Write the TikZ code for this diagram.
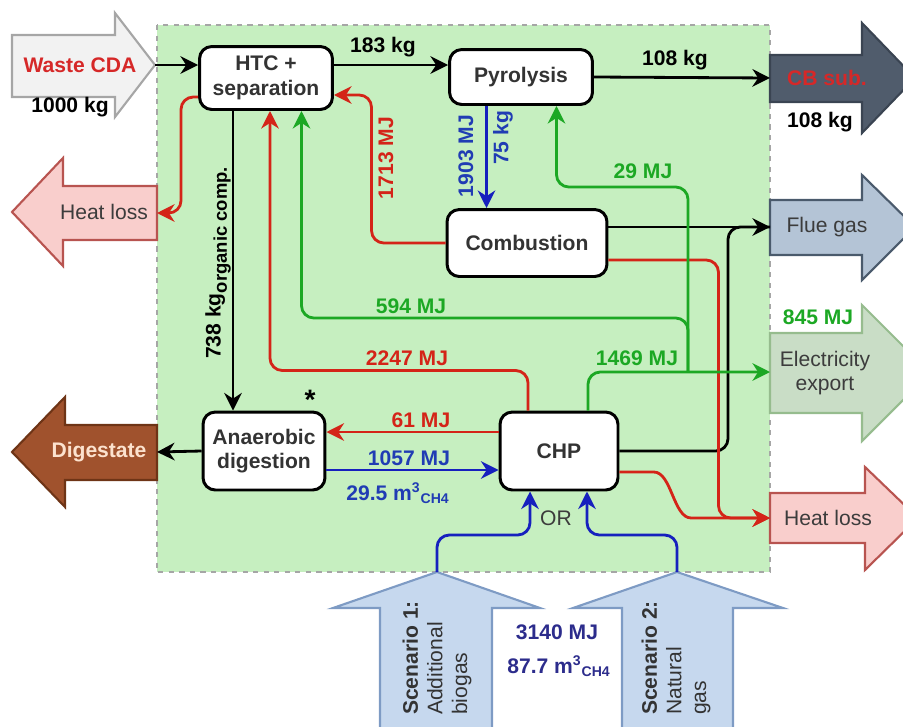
\documentclass[tikz,border=0pt]{standalone}
\usepackage{fontspec}
\setmainfont{Liberation Sans}
\usetikzlibrary{arrows.meta}

\definecolor{areagreen}{RGB}{198,239,192}
\definecolor{hotred}{RGB}{212,36,24}
\definecolor{elgreen}{RGB}{28,168,36}
\definecolor{gasblue}{RGB}{22,32,190}
\definecolor{labelblue}{RGB}{32,60,180}
\definecolor{navyblue}{RGB}{44,44,140}
\definecolor{wastered}{RGB}{214,40,40}
\definecolor{darktxt}{RGB}{60,60,60}
\definecolor{scenfill}{RGB}{198,216,238}
\definecolor{scendraw}{RGB}{126,155,196}
\definecolor{cbfill}{RGB}{80,92,108}
\definecolor{cbdraw}{RGB}{58,68,82}
\definecolor{fluefill}{RGB}{180,196,214}
\definecolor{fluedraw}{RGB}{74,90,108}
\definecolor{elfill}{RGB}{201,221,198}
\definecolor{eldraw}{RGB}{150,188,142}
\definecolor{lossfill}{RGB}{249,206,204}
\definecolor{lossdraw}{RGB}{184,84,80}
\definecolor{digfill}{RGB}{160,82,45}
\definecolor{digdraw}{RGB}{110,52,22}
\definecolor{digtxt}{RGB}{252,226,206}
\newcommand{\normtxt}{\fontsize{12}{14}\selectfont}
\newcommand{\boldtxt}{\fontsize{12}{14}\selectfont\bfseries}

\begin{document}
\begin{tikzpicture}[x=0.02cm, y=-0.02cm,
        unit/.style={draw=black, line width=1.7pt, rounded corners=7pt, fill=white,
            text=black!80, font=\boldtxt, align=center, inner sep=2pt},
        pipe/.style={line width=1.6pt, rounded corners=7pt},
        tip/.style={-{Stealth[length=10pt,width=10pt]}},
        heat/.style={pipe, draw=hotred},
        power/.style={pipe, draw=elgreen},
        gas/.style={pipe, draw=gasblue},
        lbl/.style={font=\boldtxt, inner sep=1pt},
        bigtxt/.style={font=\normtxt, text=darktxt, align=center}]
    \useasboundingbox (0,0) rectangle (903,727);
    % plant area
        \filldraw[draw=gray!70, fill=areagreen, dashed, line width=0.8pt] (157,25) rectangle (770,572);
    % block arrows in
        \filldraw[draw=gray!70, fill=gray!10, line width=1.2pt] (12,35) -- (115,35) -- (115,13) -- (155,65) -- (115,117) -- (115,97) -- (12,97) -- cycle;
        \filldraw[draw=scendraw, fill=scenfill, line width=1.2pt] (380,740) -- (380,608) -- (333,608) -- (437,572) -- (540,608) -- (492,608) -- (492,740) -- cycle;
        \filldraw[draw=scendraw, fill=scenfill, line width=1.2pt] (622,740) -- (622,608) -- (573,608) -- (677,572) -- (783,608) -- (733,608) -- (733,740) -- cycle;
    % block arrows out
        \filldraw[draw=cbdraw, fill=cbfill, line width=1.2pt] (770,55) -- (862,55) -- (862,23) -- (915,78) -- (862,133) -- (862,102) -- (770,102) -- cycle;
        \filldraw[draw=fluedraw, fill=fluefill, line width=1.2pt] (770,200) -- (862,200) -- (862,175) -- (915,227) -- (862,280) -- (862,255) -- (770,255) -- cycle;
        \filldraw[draw=eldraw, fill=elfill, line width=1.2pt] (770,333) -- (862,333) -- (862,305) -- (930,373) -- (862,441) -- (862,413) -- (770,413) -- cycle;
        \filldraw[draw=lossdraw, fill=lossfill, line width=1.2pt] (770,493) -- (865,493) -- (865,467) -- (918,518) -- (865,570) -- (865,543) -- (770,543) -- cycle;
        \filldraw[draw=lossdraw, fill=lossfill, line width=1.2pt] (157,186) -- (63,186) -- (63,158) -- (12,212) -- (63,266) -- (63,240) -- (157,240) -- cycle;
        \filldraw[draw=digdraw, fill=digfill, line width=1.2pt] (157,425) -- (65,425) -- (65,397) -- (12,452) -- (65,507) -- (65,480) -- (157,480) -- cycle;
    % arrow ends
        \coordinate (wastetip) at (155,65);
        \coordinate (cbtip) at (770,78);
        \coordinate (fluetip) at (770,227);
        \coordinate (eltip) at (770,372);
        \coordinate (hlrtip) at (770,518);
        \coordinate (hlltip) at (157,213);
        \coordinate (digtip) at (157,452);
        \coordinate (s1tip) at (437,572);
        \coordinate (s2tip) at (677,572);
        \coordinate (orgx) at (233,0);
        \coordinate (jn) at (688,372);
    % arrow texts
        \node[lbl, text=wastered] (waste) at (80,65) {Waste CDA};
        \node[lbl] (wastekg) at (70,107) {1000 kg};
        \node[lbl, text=wastered] (cbsub) at (827,78) {CB sub.};
        \node[lbl] (cbkg) at (820,122) {108 kg};
        \node[bigtxt] (flue) at (827,227) {Flue gas};
        \node[bigtxt] (elec) at (825,373) {Electricity\\export};
        \node[bigtxt] (hlr) at (828,518) {Heat loss};
        \node[bigtxt] (hll) at (104,212) {Heat loss};
        \node[lbl, text=digtxt] (dig) at (99,452) {Digestate};
        \node[font=\normtxt, text=black!80, align=left, rotate=90] (sc1) at (437,658) {\textbf{Scenario 1:}\\Additional\\biogas};
        \node[font=\normtxt, text=black!80, align=left, rotate=90] (sc2) at (676,658) {\textbf{Scenario 2:}\\Natural\\gas};
    % units
        \node[unit, minimum width=2.66cm, minimum height=1.26cm] (htc) at (266,78) {HTC +\\separation};
        \node[unit, minimum width=2.86cm, minimum height=1.1cm] (pyro) at (521,77) {Pyrolysis};
        \node[unit, minimum width=3.2cm, minimum height=1.34cm] (comb) at (527,243) {Combustion};
        \node[unit, minimum width=2.44cm, minimum height=1.56cm] (ad) at (264,451) {Anaerobic\\digestion};
        \node[unit, minimum width=2.36cm, minimum height=1.56cm] (chp) at (559,451) {CHP};
    % mass flows
        \draw[pipe, tip] (wastetip) -- (wastetip -| htc.west);
        \draw[pipe, tip] (htc.east |- wastetip) -- (pyro.west |- wastetip);
        \draw[pipe, tip] (pyro.east) -- (cbtip);
        \draw[pipe, tip] (htc.south -| orgx) -- (ad.north -| orgx);
        \draw[pipe, tip] (ad.west) -- (digtip);
        \draw[pipe, tip] (comb.east |- fluetip) -- (fluetip);
        \draw[pipe] (chp.east) -| ([xshift=-0.84cm]fluetip) -- (fluetip);
    % heat flows
        \draw[heat, tip] ([yshift=-0.38cm]htc.west) -- ++(-17,0) |- (hlltip);
        \draw[heat, tip] (comb.west) -- ++(-74,0) |- ([yshift=-0.34cm]htc.east);
        \draw[heat, tip] ([xshift=-0.62cm]chp.north) -- ++(0,-40) -| ([xshift=0.08cm]htc.south);
        \draw[heat, tip] ([yshift=0.38cm]chp.west) -- ([yshift=0.38cm]ad.east);
        \draw[heat, tip] ([yshift=-0.34cm]comb.east) -- ++(110,0) |- (hlrtip);
        \draw[heat, tip] ([yshift=-0.42cm]chp.east) -- ++(22,0) to[out=0, in=180] ++(62,46) -- (hlrtip);
    % gas flows
        \draw[gas, tip] ([xshift=-0.69cm]pyro.south) -- ([xshift=-0.69cm]pyro.south |- comb.north);
        \draw[gas, tip] ([yshift=-0.38cm]ad.east) -- ([yshift=-0.38cm]chp.west);
        \draw[gas, tip] (s1tip) -- ++(0,-37) -| ([xshift=-0.58cm]chp.south);
        \draw[gas, tip] (s2tip) -- ++(0,-37) -| ([xshift=0.56cm]chp.south);
    % power flows
        \draw[power, tip] ([xshift=0.58cm]chp.north) |- (eltip);
        \draw[power, tip] (jn) -- ++(0,-185) -| ([xshift=0.71cm]pyro.south);
        \draw[power, tip] (jn) -- ++(0,-54) -| ([xshift=0.71cm]htc.south);
    % labels
        \node[lbl] (l183) at (383,47) {183 kg};
        \node[lbl] (l108) at (675,60) {108 kg};
        \node[lbl, rotate=90] (l738) at (218,263) {738 kg{\fontsize{10.5}{11}\selectfont\raisebox{-3.5pt}{organic comp.}}};
        \node[lbl, text=hotred, rotate=90] (l1713) at (386,158) {1713 MJ};
        \node[lbl, text=labelblue, rotate=90] (l1903) at (466,156) {1903 MJ};
        \node[lbl, text=labelblue, rotate=90] (l75) at (503,138) {75 kg};
        \node[lbl, text=elgreen] (l29) at (643,171) {29 MJ};
        \node[lbl, text=elgreen] (l594) at (411,306) {594 MJ};
        \node[lbl, text=hotred] (l2247) at (407,358) {2247 MJ};
        \node[lbl, text=elgreen] (l1469) at (637,358) {1469 MJ};
        \node[lbl, text=elgreen] (l845) at (818,317) {845 MJ};
        \node[lbl, text=hotred] (l61) at (421,420) {61 MJ};
        \node[lbl, text=labelblue] (l1057) at (409,458) {1057 MJ};
        \node[lbl, text=labelblue] (l295) at (398,493) {29.5 m\textsuperscript{3}\textsubscript{CH4}};
        \node[font=\normtxt, text=darktxt] (lor) at (556,518) {OR};
        \node[lbl, text=navyblue] (l3140) at (557,632) {3140 MJ};
        \node[lbl, text=navyblue] (l877) at (559,666) {87.7 m\textsuperscript{3}\textsubscript{CH4}};
        \node[font=\fontsize{16}{16}\selectfont\bfseries] (star) at (310,400) {*};
\end{tikzpicture}
\end{document}
